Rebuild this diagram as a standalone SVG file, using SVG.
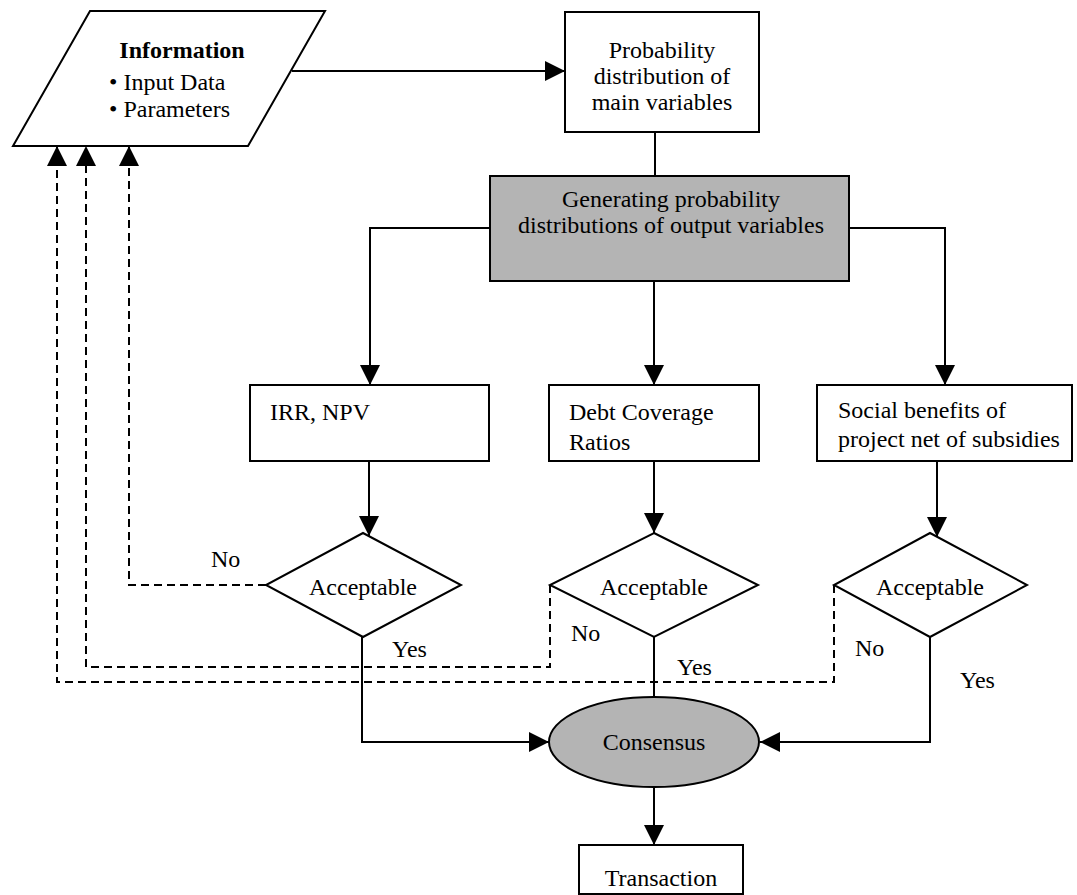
<svg xmlns="http://www.w3.org/2000/svg" width="1077" height="895" viewBox="0 0 1077 895">
  <defs>
    <marker id="arrow" viewBox="0 0 20 20" refX="20" refY="10" markerWidth="20" markerHeight="20" markerUnits="userSpaceOnUse" orient="auto">
      <path d="M0,0 L20,10 L0,20 Z" fill="#000"/>
    </marker>
    <style>
      .shape { fill: #fff; stroke: #000; stroke-width: 2; }
      .shaded { fill: #b4b4b4; stroke: #000; stroke-width: 2; }
      .line { fill: none; stroke: #000; stroke-width: 2; }
      .dash { fill: none; stroke: #000; stroke-width: 2; stroke-dasharray: 8 5; }
      text { font-family: "Liberation Serif", "Times New Roman", serif; font-size: 24px; fill: #000; }
      .mid { text-anchor: middle; }
      .bold { font-weight: bold; }
    </style>
  </defs>
  <rect width="1077" height="895" fill="#fff"/>

  <!-- connectors -->
  <g id="connectors">
    <line class="line" x1="292" y1="71" x2="565" y2="71" marker-end="url(#arrow)"/>
    <line class="line" x1="655" y1="132" x2="655" y2="176"/>
    <polyline class="line" points="490,228 370,228 370,385" marker-end="url(#arrow)"/>
    <line class="line" x1="654" y1="281" x2="654" y2="385" marker-end="url(#arrow)"/>
    <polyline class="line" points="849,228 945,228 945,385" marker-end="url(#arrow)"/>
    <line class="line" x1="369" y1="461" x2="369" y2="536" marker-end="url(#arrow)"/>
    <line class="line" x1="654" y1="461" x2="654" y2="533" marker-end="url(#arrow)"/>
    <line class="line" x1="937" y1="461" x2="937" y2="537" marker-end="url(#arrow)"/>
    <!-- "No" feedback loops -->
    <polyline class="dash" points="266,585 129,585 129,146" marker-end="url(#arrow)"/>
    <polyline class="dash" points="550,585 550,667 86,667 86,146" marker-end="url(#arrow)"/>
    <polyline class="dash" points="834,585 834,682 57,682 57,146" marker-end="url(#arrow)"/>
    <!-- "Yes" paths -->
    <polyline class="line" points="362,637 362,742 549,742" marker-end="url(#arrow)"/>
    <line class="line" x1="654" y1="637" x2="654" y2="697"/>
    <polyline class="line" points="930,637 930,742 760,742" marker-end="url(#arrow)"/>
    <line class="line" x1="654" y1="787" x2="654" y2="845" marker-end="url(#arrow)"/>
  </g>

  <g id="information">
    <polygon class="shape" points="90,11 325,11 248,146 13,146"/>
    <text class="mid bold" x="182" y="58">Information</text>
    <text x="109" y="90">• Input Data</text>
    <text x="109" y="117">• Parameters</text>
  </g>

  <g id="probability-distribution">
    <rect class="shape" x="565" y="12" width="194" height="120"/>
    <text class="mid" x="662" y="58">Probability</text>
    <text class="mid" x="662" y="84">distribution of</text>
    <text class="mid" x="662" y="110">main variables</text>
  </g>

  <g id="generating">
    <rect class="shaded" x="490" y="176" width="359" height="105"/>
    <text class="mid" x="671" y="207">Generating probability</text>
    <text class="mid" x="671" y="233">distributions of output variables</text>
  </g>

  <g id="irr-npv">
    <rect class="shape" x="250" y="385" width="239" height="76"/>
    <text x="270" y="420">IRR, NPV</text>
  </g>

  <g id="debt-coverage">
    <rect class="shape" x="549" y="385" width="210" height="76"/>
    <text x="569" y="420">Debt Coverage</text>
    <text x="569" y="450">Ratios</text>
  </g>

  <g id="social-benefits">
    <rect class="shape" x="817" y="385" width="255" height="76"/>
    <text x="838" y="418">Social benefits of</text>
    <text x="838" y="447">project net of subsidies</text>
  </g>

  <g id="acceptable-1">
    <polygon class="shape" points="363,533 461,585 363,637 266,585"/>
    <text class="mid" x="363" y="595">Acceptable</text>
  </g>

  <g id="acceptable-2">
    <polygon class="shape" points="654,533 758,585 654,637 550,585"/>
    <text class="mid" x="654" y="595">Acceptable</text>
  </g>

  <g id="acceptable-3">
    <polygon class="shape" points="930,533 1027,585 930,637 834,585"/>
    <text class="mid" x="930" y="595">Acceptable</text>
  </g>

  <g id="labels">
    <text x="211" y="567">No</text>
    <text x="392" y="657">Yes</text>
    <text x="571" y="641">No</text>
    <text x="677" y="675">Yes</text>
    <text x="855" y="656">No</text>
    <text x="960" y="688">Yes</text>
  </g>

  <g id="consensus">
    <ellipse class="shaded" cx="654" cy="742" rx="105" ry="45"/>
    <text class="mid" x="654" y="750">Consensus</text>
  </g>

  <g id="transaction">
    <rect class="shape" x="579" y="845" width="164" height="49"/>
    <text class="mid" x="661" y="886">Transaction</text>
  </g>
</svg>
